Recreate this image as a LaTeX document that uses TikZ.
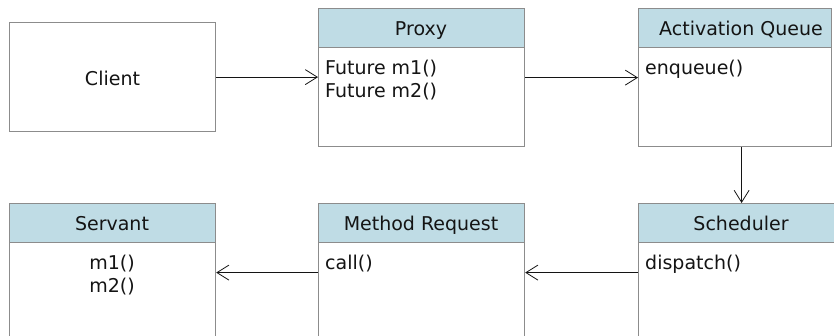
\documentclass[tikz,border=0pt]{standalone}
\usepackage{fontspec}
\setmainfont{DejaVu Sans}
\usetikzlibrary{arrows.meta}
\definecolor{boxgray}{RGB}{140,140,140}
\definecolor{headblue}{RGB}{191,220,229}
\definecolor{inkblack}{RGB}{20,20,20}
\tikzset{
  classbox/.style={draw=boxgray, line width=1.2pt, fill=white, inner sep=0pt,
    anchor=north west, minimum width=206pt, minimum height=138pt},
  classhead/.style={draw=boxgray, line width=1.2pt, fill=headblue, inner sep=0pt,
    anchor=north west, minimum width=206pt, minimum height=39pt},
  label/.style={inner sep=0pt, text=inkblack, font=\fontsize{19pt}{23pt}\selectfont},
  member/.style={label, anchor=base west},
  title/.style={label, anchor=base},
  link/.style={draw=inkblack, line width=1.1pt,
    -{Straight Barb[length=12pt, width=15pt, line width=0.8pt]}}
}
\begin{document}
\begin{tikzpicture}[x=1pt, y=-1pt]
  \useasboundingbox (0,0) rectangle (834,335);
  \fill[white] (0,0) rectangle (834,335);
  \clip (0,0) rectangle (834,335);

  % top row
  \node[classbox, minimum height=109pt] (client) at (9,22) {};
  \node[title] (clienttxt) at (112.5,85) {Client};

  \node[classbox] (proxy) at (318,8) {};
  \node[classhead] (proxyhead) at (318,8) {};
  \node[title] (proxytitle) at (421,35) {Proxy};
  \node[member] (proxym1) at (325,74) {Future m1()};
  \node[member] (proxym2) at (325,97) {Future m2()};

  \node[classbox, minimum width=193pt] (queue) at (638,8) {};
  \node[classhead, minimum width=193pt] (queuehead) at (638,8) {};
  \node[title] (queuetitle) at (741,35) {Activation Queue};
  \node[member] (queuem1) at (645,74) {enqueue()};

  % bottom row
  \node[classbox] (servant) at (9,203) {};
  \node[classhead] (servanthead) at (9,203) {};
  \node[title] (servanttitle) at (112,230.5) {Servant};
  \node[title] (servantm1) at (112,269) {m1()};
  \node[title] (servantm2) at (112,292) {m2()};

  \node[classbox] (request) at (318,203) {};
  \node[classhead] (requesthead) at (318,203) {};
  \node[title] (requesttitle) at (421,230.5) {Method Request};
  \node[member] (requestm1) at (325,269) {call()};

  \node[classbox] (sched) at (638,203) {};
  \node[classhead] (schedhead) at (638,203) {};
  \node[title] (schedtitle) at (741,230.5) {Scheduler};
  \node[member] (schedm1) at (645,269) {dispatch()};

  % connectors
  \draw[link] (client.east) -- (client.east -| proxy.west);
  \draw[link] (proxy.east) -- (queue.west);
  \draw[link] (queue.south -| sched.north) -- (sched.north);
  \draw[link] (sched.west) -- (request.east);
  \draw[link] (request.west) -- (servant.east);
\end{tikzpicture}
\end{document}
